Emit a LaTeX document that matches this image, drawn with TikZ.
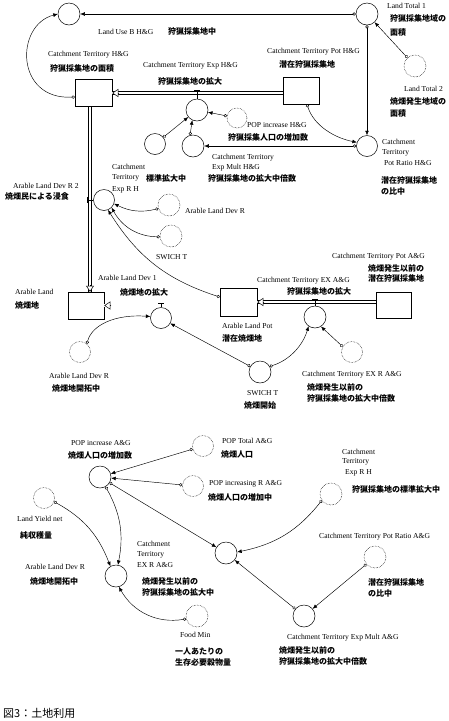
\documentclass[tikz,border=0pt]{standalone}
\usepackage{fontspec}
\newfontfamily\enf{Liberation Serif}
\newfontfamily\jpf{Noto Sans CJK JP}
\usetikzlibrary{arrows.meta,calc}
\newcommand\myen{\enf\fontsize{7.6pt}{8pt}\selectfont}
\newcommand\myjp{\jpf\bfseries\fontsize{8pt}{9pt}\selectfont}
\newcommand\mycap{\jpf\fontsize{11pt}{12pt}\selectfont}
\begin{document}
\begin{tikzpicture}[x=1pt,y=-1pt,
 aux/.style={circle,draw,line width=0.5pt,minimum size=22pt,inner sep=0},
 daux/.style={aux,densely dotted},
 stock/.style={draw,line width=0.5pt,minimum width=37pt,minimum height=27pt,inner sep=0},
 conn/.style={line width=0.45pt,{Circle[open,length=3.2pt,width=3.2pt]}-{Latex[length=4.5pt,width=3.8pt]}},
 pipe/.style={double,double distance=2.2pt,line width=0.5pt},
 ptip/.style={line width=0.5pt,-{Triangle[length=6pt,width=8pt,fill=white]}},
 tick/.style={line width=0.5pt},
 en/.style={anchor=west,inner sep=0,font=\myen},
 jp/.style={anchor=west,inner sep=0,font=\myjp},
 captext/.style={anchor=west,inner sep=0,font=\mycap}
]
\fill[white] (0,0) rectangle (448,721);
\useasboundingbox (0,0) rectangle (448,721);

% ---------- top section nodes
\node[aux] (landuse) at (69,14) {};
\node[aux] (lt1) at (367,14) {};
\node[daux] (lt2) at (415,66) {};
\node[stock] (stockH) at (93.5,93) {};
\node[stock,minimum width=36pt] (potH) at (301,90.5) {};
\node[aux] (valveH) at (197,110) {};
\node[daux,minimum size=20pt] (popH) at (237,118) {};
\node[aux,minimum size=21pt] (leftc) at (155,144) {};
\node[aux] (multH) at (193,146) {};
\node[aux,minimum size=21pt] (ratioH) at (367,146) {};
\node[aux,minimum size=21pt] (devR2) at (104,200) {};
\node[daux] (dotA) at (169,205) {};
\node[daux] (dotB) at (171,236) {};
\node[stock,minimum width=36pt] (arable) at (86,305.5) {};
\node[aux,minimum size=21pt] (valveA) at (161,318) {};
\node[daux,minimum size=21pt] (dotC) at (80,352) {};
\node[stock,minimum height=28pt] (arpot) at (238.5,302) {};
\node[stock,minimum width=35pt,minimum height=26pt] (potA) at (393.5,305) {};
\node[aux] (valveE) at (315,317) {};
\node[aux] (swich) at (260,372) {};
\node[daux,minimum size=21pt] (dotD) at (352,352) {};

% ---------- pipes
\coordinate (vx) at (90,0);
\draw[pipe] (vx |- stockH.south) -- (vx |- arable.north);
\draw[ptip] ($(vx |- arable.north)+(0,-7)$) -- (vx |- arable.north);
\draw[pipe] (potH.west |- stockH.east) -- (stockH.east);
\draw[ptip] ($(stockH.east)+(7,0)$) -- (stockH.east);
\draw[pipe] (arpot.west |- arable.east) -- (arable.east);
\draw[ptip] ($(arable.east)+(7,0)$) -- (arable.east);
\draw[pipe] (potA.west |- arpot.east) -- (arpot.east);
\draw[ptip] ($(arpot.east)+(7,0)$) -- (arpot.east);

% ---------- valve ticks
\draw[tick] (valveH.north) -- ($(valveH.north |- stockH.east)+(0,-2.5)$) coordinate (tH);
\draw[tick] ($(tH)+(-3,0)$) -- ($(tH)+(3,0)$);
\draw[tick] (valveA.north) -- ($(valveA.north |- arable.east)+(0,-2.5)$) coordinate (tA);
\draw[tick] ($(tA)+(-3,0)$) -- ($(tA)+(3,0)$);
\draw[tick] (valveE.north) -- ($(valveE.north |- arpot.east)+(0,-2.5)$) coordinate (tE);
\draw[tick] ($(tE)+(-3,0)$) -- ($(tE)+(3,0)$);
\draw[tick] (devR2.west) -- ($(vx |- devR2.west)+(-2.5,0)$) coordinate (tR);
\draw[tick] ($(tR)+(0,-3)$) -- ($(tR)+(0,3)$);

% ---------- top connectors
\draw[conn] (lt1) -- (landuse);
\draw[conn] ($(stockH.west)+(0,4)$) .. controls (15,100) and (15,25) .. (landuse.west);
\draw[conn] (lt2) -- (lt1);
\draw[conn] (lt1) -- (ratioH);
\draw[conn] ($(potH.south)+(6,0)$) .. controls (314,126) and (335,138) .. (ratioH.160);
\draw[conn] (ratioH) -- (multH);
\draw[conn] (popH) -- (valveH);
\draw[conn] (leftc) -- (valveH);
\draw[conn] (multH.105) -- (valveH.245);
\draw[conn] (dotA) to[bend left=20] (devR2.-20);
\draw[conn] (dotB) to[bend left=30] (devR2.-45);
\draw[conn] ($(arpot.west)+(0,-5)$) to[bend left=20] (devR2.-68);
\draw[conn] (dotC.50) .. controls (92,325) and (115,314) .. (valveA.172);
\draw[conn] (swich.150) -- (valveA.-30);
\draw[conn] (swich.30) .. controls (290,360) and (303,345) .. (valveE.235);
\draw[conn] (dotD.150) -- (valveE.-58);

% ---------- bottom section nodes
\node[aux] (popA) at (100,477) {};
\node[daux,minimum size=21pt] (popT) at (203,446) {};
\node[daux,minimum size=21pt] (popR) at (193,486) {};
\node[daux,minimum size=21pt] (yield) at (44,498) {};
\node[aux] (devB) at (116,576) {};
\node[daux] (food) at (197,616) {};
\node[aux] (exrA) at (226,553) {};
\node[daux] (exprA) at (331,494) {};
\node[daux] (ratioA) at (375,557) {};
\node[aux] (multA) at (304,616) {};

\draw[conn] (popT) -- (popA);
\draw[conn] (popR) -- (popA);
\draw[conn] (popA.-60) to[bend left=20] (devB.80);
\draw[conn] (popA) -- (exrA);
\draw[conn] (yield.-20) to[bend left=20] (devB.120);
\draw[conn] (food.-165) to[bend left=35] (devB.-75);
\draw[conn] (exprA.-145) to[bend left=20] (exrA.5);
\draw[conn] (ratioA) -- (multA);
\draw[conn] (multA) -- (exrA);

% ---------- English labels
\foreach \x/\y/\txt [count=\i] in {
 98/32/Land Use B H\&G,
 48/55/Catchment Territory H\&G,
 143/66/Catchment Territory Exp H\&G,
 267/52/Catchment Territory Pot H\&G,
 387/6/Land Total 1,
 404/89/Land Total 2,
 247/125/POP increase H\&G,
 212/158/Catchment Territory,
 212/168/Exp Mult H\&G,
 382/142/Catchment,
 382/153/Territory,
 384/163/Pot Ratio H\&G,
 112/167/Catchment,
 112/178/Territory,
 112/190/Exp R H,
 13/186/Arable Land Dev R 2,
 185/211/Arable Land Dev R,
 156/257/SWICH T,
 98/278/Arable Land Dev 1,
 15/292/Arable Land,
 332/257/Catchment Territory Pot A\&G,
 257/281/Catchment Territory EX A\&G,
 222/326/Arable Land Pot,
 49/376/Arable Land Dev R,
 247/393/SWICH T,
 302/375/Catchment Territory EX R A\&G,
 71/443/POP increase A\&G,
 222/441/POP Total A\&G,
 209/484/POP increasing R A\&G,
 342/452/Catchment,
 342/462/Territory,
 345/473/Exp R H,
 17/519/Land Yield net,
 137/544/Catchment,
 137/555/Territory,
 137/565/EX R A\&G,
 25/567/Arable Land Dev R,
 319/537/Catchment Territory Pot Ratio A\&G,
 180/635/Food Min,
 287/638/Catchment Territory Exp Mult A\&G}
 \node[en] (en\i) at (\x,\y) {\txt};

% ---------- Japanese labels
\foreach \x/\y/\txt [count=\i] in {
 168/32/狩猟採集地中,
 50/69/狩猟採集地の面積,
 158/82/狩猟採集地の拡大,
 279/65/潜在狩猟採集地,
 390/19/狩猟採集地域の,
 390/32/面積,
 390/101/焼畑発生地域の,
 390/113/面積,
 228/138/狩猟採集人口の増加数,
 208/179/狩猟採集地の拡大中倍数,
 381/181/潜在狩猟採集地,
 381/191/の比中,
 146/178/標準拡大中,
 5/196/焼畑民による浸食,
 120/292/焼畑地の拡大,
 15/305/焼畑地,
 368/268/焼畑発生以前の,
 368/279/潜在狩猟採集地,
 287/292/狩猟採集地の拡大,
 222/338/潜在焼畑地,
 52/388/焼畑地開拓中,
 244/405/焼畑開始,
 307/387/焼畑発生以前の,
 307/399/狩猟採集地の拡大中倍数,
 68/455/焼畑人口の増加数,
 221/454/焼畑人口,
 208/497/焼畑人口の増加中,
 352/490/狩猟採集地の標準拡大中,
 20/535/純収穫量,
 142/581/焼畑発生以前の,
 142/593/狩猟採集地の拡大中,
 30/581/焼畑地開拓中,
 368/583/潜在狩猟採集地,
 368/593/の比中,
 175/651/一人あたりの,
 175/662/生存必要穀物量,
 279/650/焼畑発生以前の,
 279/662/狩猟採集地の拡大中倍数}
 \node[jp] (jp\i) at (\x,\y) {\txt};

\node[captext] (caption) at (3,713) {図3：土地利用};
\end{tikzpicture}
\end{document}
